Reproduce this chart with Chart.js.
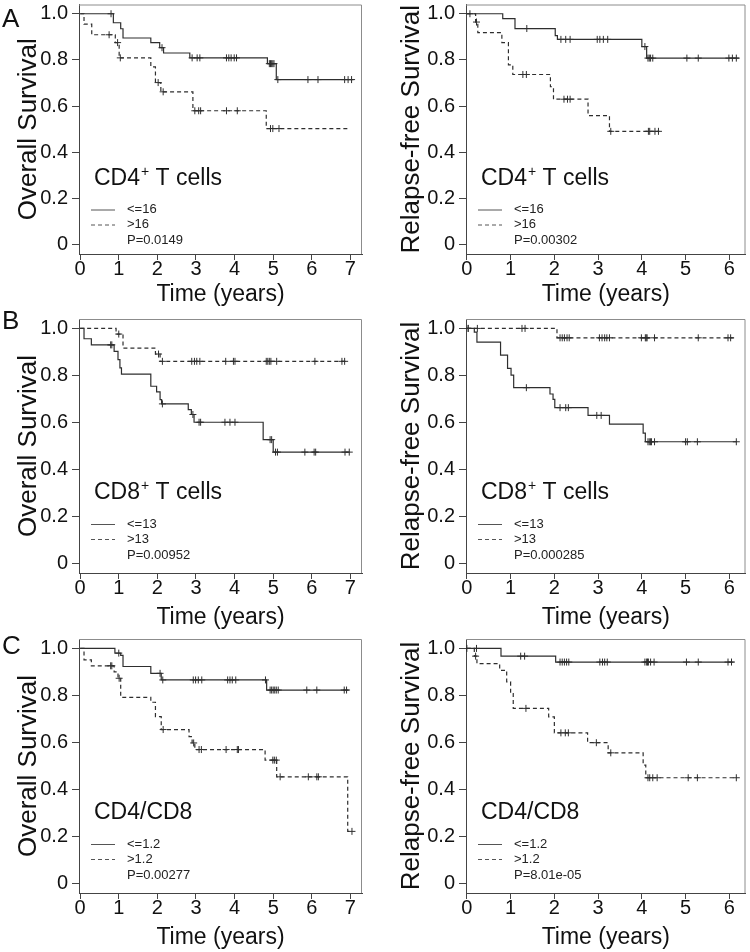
<!DOCTYPE html>
<html>
<head>
<meta charset="utf-8">
<script src="https://cdn.jsdelivr.net/npm/chart.js@4.4.0/dist/chart.umd.min.js"></script>
<style>
  body { margin: 0; background: #fff; }
  #fig { position: relative; width: 750px; height: 952px; font-family: 'Liberation Sans', Arial, sans-serif; }
  #fig canvas { position: absolute; }
  .tag { position: absolute; left: 2px; font-size: 26px; line-height: 26px; color: #111; }
</style>
</head>
<body>
<div id="fig"></div>
<script>
// axis ticks and text
const yTicks = [0, 0.2, 0.4, 0.6, 0.8, 1.0];
const yTickLabels = ['0', '0.2', '0.4', '0.6', '0.8', '1.0'];
const xTicksOS = [0, 1, 2, 3, 4, 5, 6, 7];
const xTicksRFS = [0, 1, 2, 3, 4, 5, 6];
const panelLetters = ['A', 'B', 'C'];
const yTitles = ['Overall Survival', 'Relapse-free Survival'];
const xTitle = 'Time (years)';
const cellMain = ['CD4', 'CD8', 'CD4/CD8'];
const cellSup = ['+', '+', ''];
const cellTail = [' T cells', ' T cells', ''];
const cutLow = ['<=16', '<=13', '<=1.2'];
const cutHigh = ['>16', '>13', '>1.2'];
const pOS = ['P=0.0149', 'P=0.00952', 'P=0.00277'];
const pRFS = ['P=0.00302', 'P=0.000285', 'P=8.01e-05'];

// A: CD4+ T cells, overall survival (T = step times, S = survival after step, C = censored times)
const cd4OsLowT = [0, 0.86, 1.05, 1.11, 1.83, 2.06, 2.16, 2.84, 4.85, 5.08, 7.08];
const cd4OsLowS = [1, 0.961, 0.935, 0.895, 0.875, 0.853, 0.830, 0.809, 0.784, 0.715, 0.715];
const cd4OsLowC = [0.80, 2.12, 2.90, 3.03, 3.10, 3.79, 3.85, 3.91, 3.99, 4.05, 4.90, 4.93, 4.96, 4.99, 5.02, 5.12, 5.90, 6.16, 6.85, 6.94, 7.03];
const cd4OsHighT = [0, 0.10, 0.30, 0.91, 1.01, 1.83, 1.95, 2.09, 2.92, 4.82, 6.94];
const cd4OsHighS = [1, 0.955, 0.909, 0.875, 0.809, 0.770, 0.702, 0.662, 0.580, 0.503, 0.503];
const cd4OsHighC = [0.75, 0.97, 1.04, 2.02, 2.15, 2.97, 3.07, 3.12, 3.79, 4.07, 4.93, 4.99, 5.15];

// A: CD4+ T cells, relapse-free survival
const cd4RfsLowT = [0, 0.82, 1.10, 2.02, 2.07, 4.00, 4.11, 6.22];
const cd4RfsLowS = [1, 0.979, 0.936, 0.905, 0.889, 0.858, 0.808, 0.808];
const cd4RfsLowC = [0.07, 1.37, 2.15, 2.26, 2.36, 2.98, 3.04, 3.12, 3.22, 4.07, 4.14, 4.17, 4.20, 4.25, 5.03, 5.29, 5.99, 6.07, 6.16];
const cd4RfsHighT = [0, 0.20, 0.25, 0.80, 0.95, 1.05, 1.91, 1.98, 2.77, 3.26, 4.40];
const cd4RfsHighS = [1, 0.964, 0.918, 0.875, 0.779, 0.737, 0.684, 0.630, 0.559, 0.491, 0.491];
const cd4RfsHighC = [0.22, 1.28, 1.36, 2.22, 2.30, 2.36, 3.29, 4.15, 4.18, 4.30, 4.38];

// B: CD8+ T cells, overall survival
const cd8OsLowT = [0, 0.10, 0.29, 0.88, 0.98, 1.03, 1.07, 1.83, 1.98, 2.07, 2.11, 2.80, 2.88, 2.95, 4.74, 5.00, 6.97];
const cd8OsLowS = [1, 0.956, 0.930, 0.902, 0.867, 0.832, 0.806, 0.754, 0.730, 0.697, 0.679, 0.655, 0.634, 0.601, 0.527, 0.474, 0.474];
const cd8OsLowC = [0.79, 0.82, 2.13, 2.92, 3.08, 3.12, 3.75, 3.88, 4.01, 4.92, 4.96, 5.06, 5.11, 5.82, 6.06, 6.10, 6.86, 6.97];
const cd8OsHighT = [0, 0.93, 1.11, 1.95, 2.07, 6.93];
const cd8OsHighS = [1, 0.976, 0.916, 0.891, 0.860, 0.860];
const cd8OsHighC = [1.00, 2.03, 2.13, 2.89, 2.96, 3.02, 3.10, 3.77, 3.97, 4.01, 4.82, 4.86, 4.90, 4.94, 5.09, 6.08, 6.78, 6.85];

// B: CD8+ T cells, relapse-free survival
const cd8RfsLowT = [0, 0.17, 0.23, 0.77, 0.93, 1.01, 1.07, 1.90, 1.97, 2.01, 2.77, 3.26, 4.03, 4.08, 6.16];
const cd8RfsLowS = [1, 0.984, 0.942, 0.886, 0.830, 0.801, 0.748, 0.721, 0.698, 0.663, 0.630, 0.593, 0.555, 0.518, 0.518];
const cd8RfsLowC = [0.03, 1.36, 2.13, 2.26, 2.32, 2.97, 3.07, 4.14, 4.17, 4.20, 4.22, 4.29, 5.00, 5.04, 5.27, 6.16];
const cd8RfsHighT = [0, 2.06, 6.10];
const cd8RfsHighS = [1, 0.960, 0.960];
const cd8RfsHighC = [0.03, 0.24, 1.26, 1.33, 2.13, 2.18, 2.23, 2.29, 2.34, 3.03, 3.09, 3.15, 3.20, 3.26, 3.99, 4.08, 4.10, 4.12, 4.29, 5.29, 5.97, 6.03];

// C: CD4/CD8 ratio, overall survival
const ratioOsLowT = [0, 0.90, 1.05, 1.11, 1.83, 2.10, 4.83, 6.96];
const ratioOsLowS = [1, 0.980, 0.970, 0.923, 0.894, 0.866, 0.823, 0.823];
const ratioOsLowC = [1.00, 2.07, 2.14, 2.93, 2.99, 3.06, 3.15, 3.82, 3.88, 3.94, 4.03, 4.80, 4.92, 4.96, 5.00, 5.04, 5.08, 5.13, 5.87, 6.13, 6.84, 6.90];
const ratioOsHighT = [0, 0.10, 0.29, 0.88, 0.98, 1.05, 1.83, 1.95, 2.10, 2.82, 2.90, 2.97, 4.79, 5.09, 6.93, 7.04];
const ratioOsHighS = [1, 0.951, 0.926, 0.900, 0.873, 0.792, 0.771, 0.710, 0.655, 0.625, 0.598, 0.570, 0.525, 0.454, 0.222, 0.222];
const ratioOsHighC = [0.79, 0.82, 1.01, 2.15, 2.94, 3.08, 3.14, 3.78, 4.07, 4.10, 4.99, 5.03, 5.08, 5.18, 5.91, 6.13, 6.17, 7.04];

// C: CD4/CD8 ratio, relapse-free survival
const ratioRfsLowT = [0, 0.78, 2.03, 6.10];
const ratioRfsLowS = [1, 0.967, 0.942, 0.942];
const ratioRfsLowC = [0.00, 0.22, 1.23, 1.32, 2.13, 2.18, 2.23, 2.28, 2.33, 3.04, 3.10, 3.15, 3.21, 4.07, 4.11, 4.13, 4.15, 4.20, 4.28, 5.02, 5.29, 5.97, 6.05];
const ratioRfsHighT = [0, 0.17, 0.23, 0.75, 0.91, 1.00, 1.06, 1.87, 2.00, 2.76, 3.23, 4.03, 4.09, 6.16];
const ratioRfsHighS = [1, 0.967, 0.935, 0.907, 0.858, 0.808, 0.745, 0.709, 0.641, 0.599, 0.556, 0.504, 0.450, 0.450];
const ratioRfsHighC = [0.20, 1.35, 2.15, 2.25, 2.32, 2.96, 3.29, 4.14, 4.18, 4.25, 4.35, 5.06, 5.27, 6.16];

const curves = [
  [[cd4OsLowT, cd4OsLowS, cd4OsLowC, cd4OsHighT, cd4OsHighS, cd4OsHighC],
   [cd4RfsLowT, cd4RfsLowS, cd4RfsLowC, cd4RfsHighT, cd4RfsHighS, cd4RfsHighC]],
  [[cd8OsLowT, cd8OsLowS, cd8OsLowC, cd8OsHighT, cd8OsHighS, cd8OsHighC],
   [cd8RfsLowT, cd8RfsLowS, cd8RfsLowC, cd8RfsHighT, cd8RfsHighS, cd8RfsHighC]],
  [[ratioOsLowT, ratioOsLowS, ratioOsLowC, ratioOsHighT, ratioOsHighS, ratioOsHighC],
   [ratioRfsLowT, ratioRfsLowS, ratioRfsLowC, ratioRfsHighT, ratioRfsHighS, ratioRfsHighC]]
];

// layout of the rows / columns on the page
const rowTop = [0, 310, 630];
const rowH = [310, 320, 322];
const padTop = [2, 9, 9];
const padBottom = [3.5, 0.5, 2.5];
const xAxisH = [52.5, 56.5, 56.5];
const tagTop = [5, 307, 632];
const colLeft = [0, 375];
const yAxisW = [79, 91];
const padRight = [13, 4];
const yTitlePad = [15.5, 24];
const xMax = [7.3, 6.37];
const xMin = [-0.03, -0.02];

const INK = '#2e2e2e';
const FONT = "'Liberation Sans', Arial, sans-serif";

function survAt(times, surv, t) {
  let s = surv[0];
  for (let i = 0; i < times.length; i++) if (times[i] <= t) s = surv[i];
  return s;
}

const panelDecor = {
  id: 'panelDecor',
  afterDraw(chart, args, o) {
    const { ctx, chartArea: a } = chart;
    ctx.save();
    // grey frame on top and right (left/bottom are the axis lines)
    ctx.strokeStyle = '#8c8c8c';
    ctx.lineWidth = 1;
    ctx.beginPath();
    ctx.moveTo(a.left, a.top + 0.5);
    ctx.lineTo(a.right - 0.5, a.top + 0.5);
    ctx.lineTo(a.right - 0.5, a.bottom);
    ctx.stroke();

    // subset label
    ctx.fillStyle = '#111';
    ctx.textBaseline = 'alphabetic';
    let x = a.left + 15;
    const by = a.top + 180;
    ctx.font = '23px ' + FONT;
    ctx.fillText(o.main, x, by);
    x += ctx.measureText(o.main).width;
    if (o.sup) {
      ctx.font = '14px ' + FONT;
      ctx.fillText(o.sup, x + 1, by - 9);
      x += ctx.measureText(o.sup).width + 1;
      ctx.font = '23px ' + FONT;
    }
    if (o.tail) ctx.fillText(o.tail, x, by);

    // legend
    const lx = a.left + 12, tx = a.left + 48;
    const rows = [a.top + 205, a.top + 220, a.top + 236];
    ctx.strokeStyle = '#555';
    ctx.lineWidth = 1;
    ctx.beginPath();
    ctx.moveTo(lx, rows[0] + 0.5); ctx.lineTo(lx + 24, rows[0] + 0.5);
    ctx.stroke();
    ctx.setLineDash([4, 3]);
    ctx.beginPath();
    ctx.moveTo(lx, rows[1] + 0.5); ctx.lineTo(lx + 24, rows[1] + 0.5);
    ctx.stroke();
    ctx.setLineDash([]);
    ctx.font = '13px ' + FONT;
    ctx.fillStyle = '#222';
    ctx.textBaseline = 'middle';
    ctx.fillText(o.low, tx, rows[0]);
    ctx.fillText(o.high, tx, rows[1]);
    ctx.fillText(o.p, tx, rows[2]);
    ctx.restore();
  }
};

const fig = document.getElementById('fig');

function makePanel(row, col) {
  const [lowT, lowS, lowC, highT, highS, highC] = curves[row][col];
  const xt = col === 0 ? xTicksOS : xTicksRFS;

  const cv = document.createElement('canvas');
  cv.width = 375;
  cv.height = rowH[row];
  cv.style.left = colLeft[col] + 'px';
  cv.style.top = rowTop[row] + 'px';
  fig.appendChild(cv);

  const lowPts = lowT.map((t, i) => ({ x: t, y: lowS[i] }));
  const highPts = highT.map((t, i) => ({ x: t, y: highS[i] }));
  const lowCens = lowC.map(t => ({ x: t, y: survAt(lowT, lowS, t) }));
  const highCens = highC.map(t => ({ x: t, y: survAt(highT, highS, t) }));

  const markStyle = {
    type: 'scatter', pointStyle: 'cross', pointRadius: 3.5, pointHoverRadius: 3.5,
    borderColor: INK, pointBorderColor: INK, pointBorderWidth: 1, backgroundColor: INK
  };

  new Chart(cv, {
    type: 'line',
    data: {
      datasets: [
        { data: lowPts, stepped: 'before', borderColor: INK, borderWidth: 1.2, pointRadius: 0, fill: false },
        { data: highPts, stepped: 'before', borderColor: INK, borderWidth: 1.2, borderDash: [4, 3], pointRadius: 0, fill: false },
        Object.assign({ data: lowCens }, markStyle),
        Object.assign({ data: highCens }, markStyle)
      ]
    },
    options: {
      responsive: false,
      animation: false,
      events: [],
      layout: { padding: { top: padTop[row], bottom: padBottom[row], left: 0, right: padRight[col] } },
      plugins: {
        legend: { display: false },
        tooltip: { enabled: false },
        panelDecor: {
          main: cellMain[row], sup: cellSup[row], tail: cellTail[row],
          low: cutLow[row], high: cutHigh[row], p: col === 0 ? pOS[row] : pRFS[row]
        }
      },
      scales: {
        x: {
          type: 'linear',
          min: xMin[col],
          max: xMax[col],
          afterBuildTicks: s => { s.ticks = xt.map(v => ({ value: v })); },
          afterFit: s => { s.height = xAxisH[row]; s.paddingLeft = 0; s.paddingRight = 0; },
          ticks: {
            autoSkip: false, maxRotation: 0, padding: -1, color: '#111',
            font: { family: FONT, size: 20, lineHeight: 1 },
            callback: v => String(v)
          },
          grid: { drawOnChartArea: false, drawTicks: true, tickLength: 6, color: '#444' },
          border: { display: true, color: '#444', width: 1 },
          title: {
            display: true, text: xTitle, color: '#111',
            font: { family: FONT, size: 23, lineHeight: 1 },
            padding: { top: 0, bottom: 0 }
          }
        },
        y: {
          min: -0.04,
          max: 1.04,
          afterBuildTicks: s => { s.ticks = yTicks.map(v => ({ value: v })); },
          afterFit: s => { s.width = yAxisW[col]; s.paddingTop = 0; s.paddingBottom = 0; },
          ticks: {
            padding: 4, color: '#111',
            font: { family: FONT, size: 20, lineHeight: 1 },
            callback: v => yTickLabels[yTicks.indexOf(v)]
          },
          grid: { drawOnChartArea: false, drawTicks: true, tickLength: 7, color: '#444' },
          border: { display: true, color: '#444', width: 1 },
          title: {
            display: true, text: yTitles[col], color: '#111',
            font: { family: FONT, size: 26, lineHeight: 1 },
            padding: { top: yTitlePad[col], bottom: 0 }
          }
        }
      }
    },
    plugins: [panelDecor]
  });
}

for (let r = 0; r < 3; r++) {
  makePanel(r, 0);
  makePanel(r, 1);
  const tag = document.createElement('div');
  tag.className = 'tag';
  tag.style.top = tagTop[r] + 'px';
  tag.textContent = panelLetters[r];
  fig.appendChild(tag);
}
</script>
</body>
</html>
